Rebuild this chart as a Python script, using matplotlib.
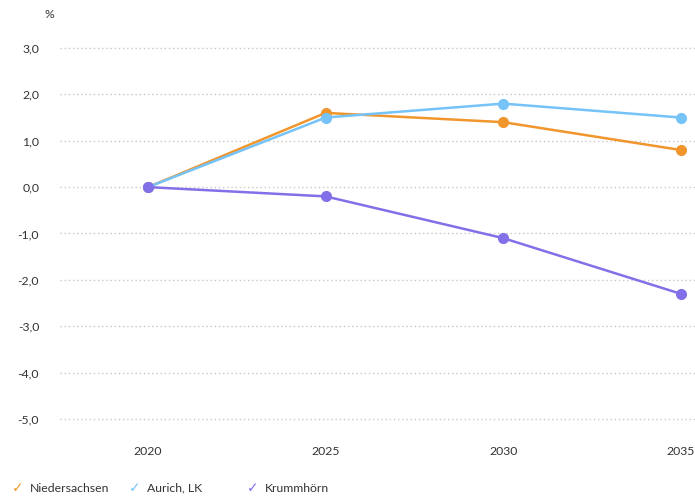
import matplotlib.pyplot as plt
import numpy as np

# data
years = [2020, 2025, 2030, 2035]
niedersachsen = [0.0, 1.6, 1.4, 0.8]
aurich = [0.0, 1.5, 1.8, 1.5]
krummhoern = [0.0, -0.2, -1.1, -2.3]

names = ['Niedersachsen', 'Aurich, LK', 'Krummhörn']
colors = ['#F0962D', '#75C3F8', '#8270E8']
series = [niedersachsen, aurich, krummhoern]

yticks = [3, 2, 1, 0, -1, -2, -3, -4, -5]

plt.rcParams['font.family'] = ['Lato', 'DejaVu Sans']

fig = plt.figure(figsize=(6.95, 4.97), dpi=100)
ax = fig.add_axes([60 / 695, 1 - 437.6 / 497, 1 - 60 / 695, (437.6 - 29.4) / 497])

for vals, c in zip(series, colors):
  ax.plot(years, vals, color=c, lw=1.8, marker='o', ms=7, clip_on=False, zorder=3)

ax.set_xlim(2017.52, 2035.4)
ax.set_ylim(-5.4, 3.4)
ax.set_xticks(years)
ax.set_yticks(yticks)
ax.set_yticklabels([('%.1f' % v).replace('.', ',') for v in yticks])

ax.grid(axis='y', linestyle=(0, (1, 2)), color='#c8c8c8', lw=1)
ax.grid(axis='x', visible=False)
for s in ax.spines.values():
  s.set_visible(False)
ax.tick_params(length=0, labelsize=8.8, colors='#333333')
ax.tick_params(axis='y', pad=15)
ax.tick_params(axis='x', pad=6)

fig.text(49 / 695, 1 - 15 / 497, '%', fontsize=8.8, color='#333333', ha='center', va='center')

# legend with check marks
legend_x = [12, 129, 247]
for x, name, c in zip(legend_x, names, colors):
  fig.text(x / 695, 1 - 488 / 497, '\u2713', color=c, fontsize=10,
           family='DejaVu Sans', ha='left', va='center')
  fig.text((x + 18) / 695, 1 - 488 / 497, name, color='#333333', fontsize=8.8,
           ha='left', va='center')

fig.savefig('out.png')
